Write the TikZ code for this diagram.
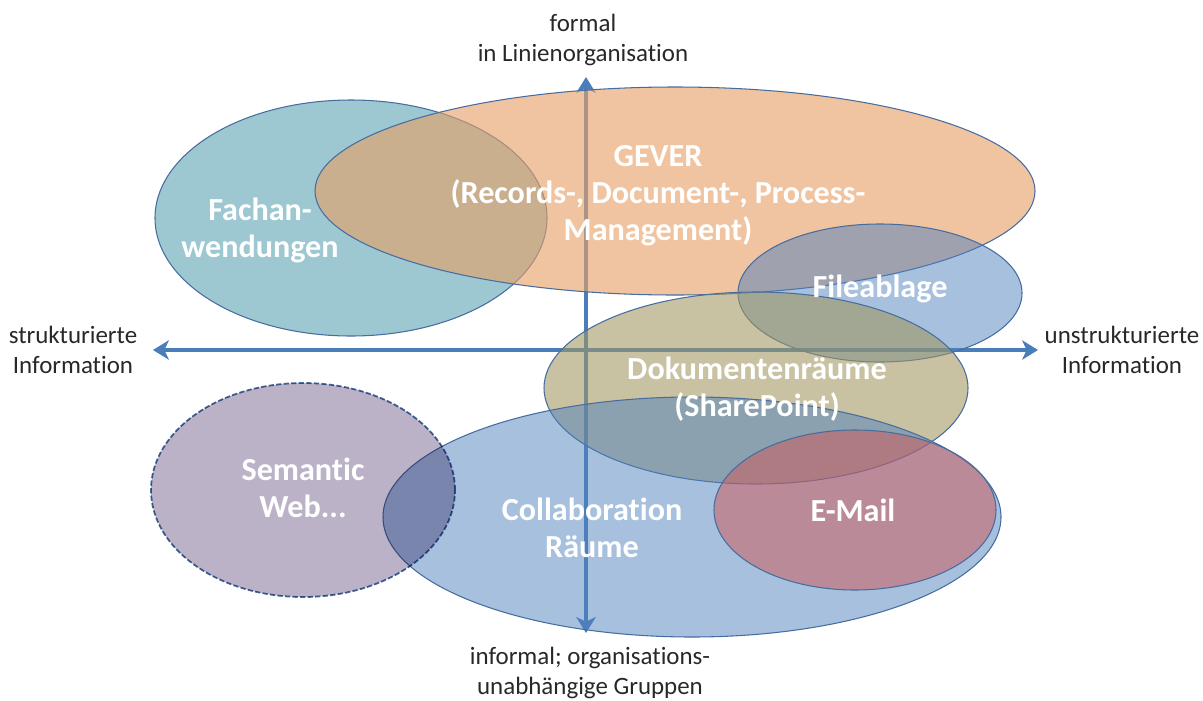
\documentclass[tikz,border=0pt]{standalone}
\usepackage{fontspec}
\setmainfont{Carlito}[Ligatures=NoCommon]
\usepackage{tikz}
\usepackage{xcolor}
\usetikzlibrary{arrows.meta}
\usetikzlibrary{shapes.geometric}

\definecolor{axisblue}{RGB}{74,126,187}
\definecolor{rimblue}{RGB}{70,108,160}
\definecolor{fachcol}{RGB}{157,200,210}
\definecolor{gevercol}{RGB}{231,160,102}
\definecolor{filecol}{RGB}{79,129,189}
\definecolor{dokucol}{RGB}{160,150,95}
\definecolor{collabcol}{RGB}{79,129,189}
\definecolor{mailcol}{RGB}{209,86,86}
\definecolor{semcol}{RGB}{188,178,200}
\definecolor{axistext}{RGB}{40,40,40}

\tikzset{
  blob/.style={ellipse, draw=rimblue, line width=0.6pt, inner sep=0pt},
  blobtext/.style={text=white, font=\fontsize{18.3}{21}\selectfont\bfseries, align=center},
  axistxt/.style={text=axistext, font=\fontsize{14.2}{17}\selectfont, align=center},
  axisarrow/.style={draw=axisblue, line width=2pt,
    {Stealth[length=9pt,width=11pt,inset=2.5pt]}-{Stealth[length=9pt,width=11pt,inset=2.5pt]}}
}

\begin{document}
\begin{tikzpicture}[x=0.02cm,y=-0.02cm]
        \newcommand{\figpx}{0.02cm}
        \newcommand{\figaxisy}{350}
        \newcommand{\figaxisx}{586}
        \newcommand{\figaxisleft}{153}
        \newcommand{\figaxisright}{1038}
        \newcommand{\figaxistop}{77}
        \newcommand{\figaxisbottom}{633}
        \useasboundingbox (0,0) rectangle (1203,700);
        \coordinate (west) at (\figaxisleft,\figaxisy);
        \coordinate (east) at (\figaxisright,\figaxisy);
        \coordinate (north) at (\figaxisx,\figaxistop);
        \coordinate (south) at (\figaxisx,\figaxisbottom);
        \draw[axisarrow] (west) -- (east);
        \draw[axisarrow] (south) -- (north);
        \node[blob, fill=fachcol, minimum width=392*\figpx, minimum height=236*\figpx] (fach) at (351,218) {};
        \node[blob, fill=gevercol, fill opacity=0.62, minimum width=720*\figpx, minimum height=208*\figpx] (gever) at (675,191) {};
        \node[blob, fill=filecol, fill opacity=0.5, minimum width=284*\figpx, minimum height=138*\figpx] (file) at (880,293) {};
        \node[blob, fill=dokucol, fill opacity=0.58, minimum width=424*\figpx, minimum height=192*\figpx] (doku) at (756,388) {};
        \node[blob, fill=collabcol, fill opacity=0.5, minimum width=618*\figpx, minimum height=240*\figpx] (collab) at (692,517) {};
        \begin{scope}[blend mode=multiply]
        \node[blob, fill=semcol, dashed, dash pattern=on 3pt off 1.3pt, line width=1pt, minimum width=304*\figpx, minimum height=214*\figpx] (sem) at (303,490) {};
        \end{scope}
        \node[blob, fill=mailcol, fill opacity=0.5, minimum width=282*\figpx, minimum height=160*\figpx] (mail) at (855,510) {};
        \node[blobtext] (fachlabel) at (260,230) {Fachan-\\wendungen};
        \node[blobtext] (geverlabel) at (658,196) {GEVER\\(Records-, Document-, Process-\\Management)};
        \node[blobtext] (filelabel) at (880,289) {Fileablage};
        \node[blobtext] (dokulabel) at (757,389) {Dokumentenräume\\(SharePoint)};
        \node[blobtext] (semlabel) at (303,488) {Semantic\\Web...};
        \node[blobtext] (collablabel) at (592,528) {Collaboration\\Räume};
        \node[blobtext] (maillabel) at (853,510) {E-Mail};
        \node[axistxt] (formal) at (583,40) {formal\\in Linienorganisation};
        \node[axistxt] (strukt) at (73,350) {strukturierte\\Information};
        \node[axistxt] (unstrukt) at (1122,350) {unstrukturierte\\Information};
        \node[axistxt] (informal) at (590,673) {informal; organisations-\\unabhängige Gruppen};
\end{tikzpicture}
\end{document}
